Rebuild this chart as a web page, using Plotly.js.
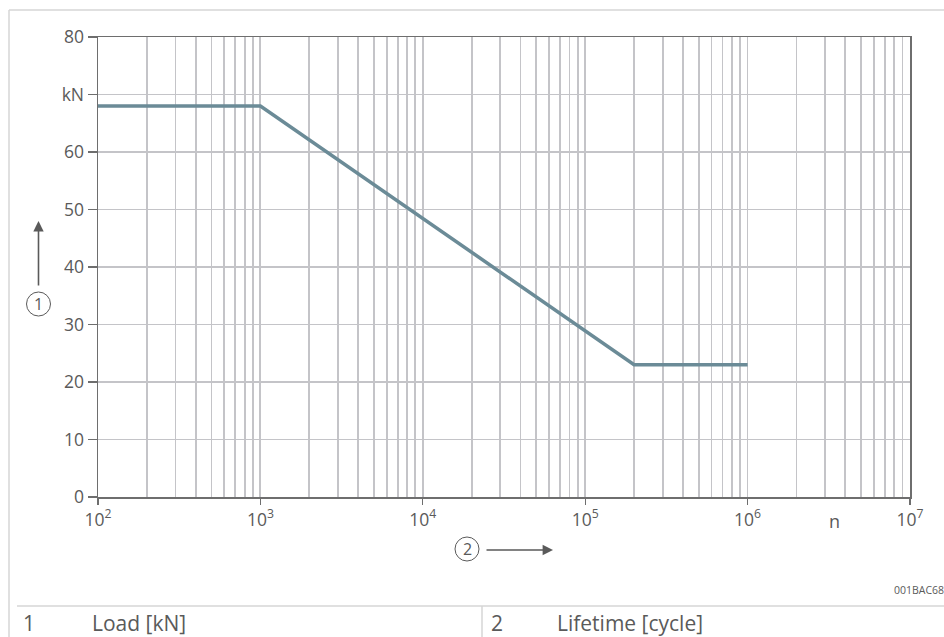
<!DOCTYPE html>
<html>
<head>
<meta charset="utf-8">
<script src="https://cdn.plot.ly/plotly-3.0.1.min.js"></script>
<style>
  html, body { margin: 0; padding: 0; background: #ffffff; }
  #chart { width: 944px; height: 637px; }
</style>
</head>
<body>
<div id="chart"></div>
<script>
// ---- Data ----
const cycles = [100, 1000, 200000, 1000000];
const loadKN = [68, 68, 23, 23];

const xTickVals = [1e2, 1e3, 1e4, 1e5, 1e6, 1e7];
const xTickText = ['10<sup>2</sup>', '10<sup>3</sup>', '10<sup>4</sup>', '10<sup>5</sup>', '10<sup>6</sup>', '10<sup>7</sup>'];
const yTickVals = [0, 10, 20, 30, 40, 50, 60, 70, 80];
const yTickText = ['0', '10', '20', '30', '40', '50', '60', 'kN', '80'];

const legendNumbers = ['1', '2'];
const legendLabels = ['Load [kN]', 'Lifetime [cycle]'];
const figureCode = '001BAC68';
const xUnitLabel = 'n';

// ---- Layout geometry (pixels) ----
const W = 944, H = 637;
const L = 98, R = 910, T = 37, B = 497;
const px = x => (x - L) / (R - L);
const py = y => (B - y) / (B - T);

// minor gridline positions for a log axis (2..9 per decade)
const minorVals = [];
for (let e = 2; e < 7; e++) {
  for (let d = 2; d <= 9; d++) minorVals.push(d * Math.pow(10, e));
}

const textColor = '#5a5a5a';
const gridColor = '#c4c4c8';
const axisColor = '#6e6e6e';
const frameColor = '#d6d6d6';
const font = 'Open Sans, Noto Sans, sans-serif';

const trace = {
  x: cycles,
  y: loadKN,
  type: 'scatter',
  mode: 'lines',
  line: { color: '#6b8b97', width: 3.5 },
  hoverinfo: 'skip'
};

const shapes = [
  // outer frame
  { type: 'line', xref: 'paper', yref: 'paper', x0: px(9), x1: px(W + 5), y0: py(10), y1: py(10), line: { color: frameColor, width: 1.5 } },
  { type: 'line', xref: 'paper', yref: 'paper', x0: px(9), x1: px(9), y0: py(10), y1: py(H + 5), line: { color: frameColor, width: 1.5 } },
  // table separator lines
  { type: 'line', xref: 'paper', yref: 'paper', x0: px(17), x1: px(W + 5), y0: py(606), y1: py(606), line: { color: frameColor, width: 1.5 } },
  { type: 'line', xref: 'paper', yref: 'paper', x0: px(482), x1: px(482), y0: py(606), y1: py(H + 5), line: { color: frameColor, width: 1.5 } },
  // circles around 1 and 2
  { type: 'circle', xref: 'paper', yref: 'paper', x0: px(26.5), x1: px(50.5), y0: py(292), y1: py(316), line: { color: textColor, width: 1 } },
  { type: 'circle', xref: 'paper', yref: 'paper', x0: px(455), x1: px(479), y0: py(537), y1: py(561), line: { color: textColor, width: 1 } }
];

const annotations = [
  // circled numbers
  { xref: 'paper', yref: 'paper', x: px(38.5), y: py(304), text: legendNumbers[0], showarrow: false, xanchor: 'center', yanchor: 'middle', font: { family: font, size: 16, color: textColor } },
  { xref: 'paper', yref: 'paper', x: px(467), y: py(549), text: legendNumbers[1], showarrow: false, xanchor: 'center', yanchor: 'middle', font: { family: font, size: 16, color: textColor } },
  // arrows
  { xref: 'paper', yref: 'paper', x: px(38.5), y: py(221), ax: 0, ay: 66, text: '', showarrow: true, arrowhead: 2, arrowsize: 1.3, arrowwidth: 1.6, arrowcolor: textColor },
  { xref: 'paper', yref: 'paper', x: px(553), y: py(550), ax: -68, ay: 0, text: '', showarrow: true, arrowhead: 2, arrowsize: 1.3, arrowwidth: 1.6, arrowcolor: textColor },
  // x unit label
  { xref: 'paper', yref: 'paper', x: px(834), y: py(521), text: xUnitLabel, showarrow: false, xanchor: 'center', yanchor: 'middle', font: { family: font, size: 18, color: textColor } },
  // figure code
  { xref: 'paper', yref: 'paper', x: px(892), y: py(590), text: figureCode, showarrow: false, xanchor: 'left', yanchor: 'middle', font: { family: font, size: 10.5, color: textColor } },
  // legend table
  { xref: 'paper', yref: 'paper', x: px(21), y: py(623), text: legendNumbers[0], showarrow: false, xanchor: 'left', yanchor: 'middle', font: { family: font, size: 21, color: textColor } },
  { xref: 'paper', yref: 'paper', x: px(90), y: py(623), text: legendLabels[0], showarrow: false, xanchor: 'left', yanchor: 'middle', font: { family: font, size: 21, color: textColor } },
  { xref: 'paper', yref: 'paper', x: px(489), y: py(623), text: legendNumbers[1], showarrow: false, xanchor: 'left', yanchor: 'middle', font: { family: font, size: 21, color: textColor } },
  { xref: 'paper', yref: 'paper', x: px(555), y: py(623), text: legendLabels[1], showarrow: false, xanchor: 'left', yanchor: 'middle', font: { family: font, size: 21, color: textColor } }
];

const layout = {
  width: W,
  height: H,
  margin: { l: L, r: W - R, t: T, b: H - B, pad: 0 },
  paper_bgcolor: '#ffffff',
  plot_bgcolor: '#ffffff',
  showlegend: false,
  font: { family: font, size: 17, color: textColor },
  xaxis: {
    type: 'log',
    range: [2, 7],
    tickmode: 'array',
    tickvals: xTickVals,
    ticktext: xTickText,
    ticks: 'outside',
    ticklen: 6,
    tickwidth: 1.2,
    tickcolor: axisColor,
    showgrid: true,
    gridcolor: gridColor,
    gridwidth: 1.8,
    minor: { tickmode: 'array', tickvals: minorVals, showgrid: true, gridcolor: gridColor, gridwidth: 1.8, ticks: '' },
    showline: true,
    linecolor: axisColor,
    linewidth: 1.5,
    mirror: true,
    zeroline: false,
    tickfont: { family: font, size: 17.5, color: textColor }
  },
  yaxis: {
    range: [0, 80],
    tickmode: 'array',
    tickvals: yTickVals,
    ticktext: yTickText,
    ticks: 'outside',
    ticklen: 9,
    tickwidth: 1.2,
    tickcolor: axisColor,
    showgrid: true,
    gridcolor: gridColor,
    gridwidth: 1.8,
    showline: true,
    linecolor: axisColor,
    linewidth: 1.5,
    mirror: true,
    zeroline: false,
    tickfont: { family: font, size: 17.5, color: textColor }
  },
  shapes: shapes,
  annotations: annotations
};

Plotly.newPlot('chart', [trace], layout, { displayModeBar: false, staticPlot: true });
</script>
</body>
</html>
